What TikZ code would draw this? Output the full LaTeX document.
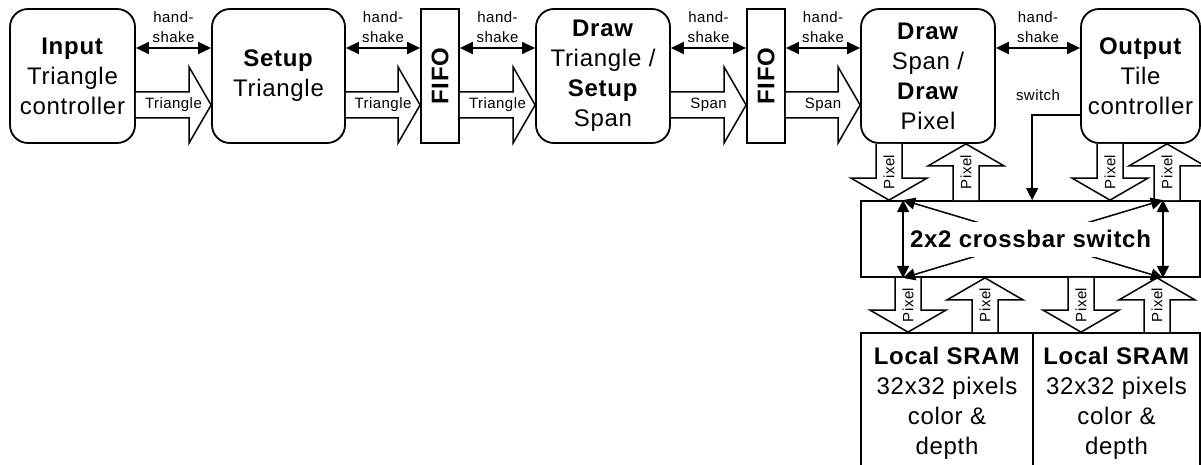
\documentclass[tikz,border=0pt]{standalone}
\usepackage{fontspec}
\setmainfont{Liberation Sans}[LetterSpace=3]
\usetikzlibrary{arrows.meta,calc}
\newcommand\bigf{\fontsize{24}{30}\selectfont}
\newcommand\smf{\fontsize{15}{20}\selectfont}
\tikzset{
  lw/.style={line width=1.8pt},
  rbox/.style={draw, lw, rounded corners=18pt, fill=white, align=center, inner sep=0pt, font=\bigf},
  sbox/.style={draw, lw, fill=white, align=center, inner sep=0pt, font=\bigf},
  hs/.style={line width=1.6pt, {Triangle[length=13pt,width=12pt]}-{Triangle[length=13pt,width=12pt]}},
  xa/.style={line width=1.5pt, {Triangle[length=12pt,width=12pt]}-{Triangle[length=12pt,width=12pt]}},
  sw/.style={line width=1.5pt, -{Triangle[length=12pt,width=12pt]}},
  hl/.style={align=center, inner sep=0pt, font=\smf},
  fatarrow/.style={draw, line width=1.5pt, fill=white, line join=miter},
  fatlbl/.style={inner sep=0pt, font=\smf},
}
% #1 start, #2 tip, #3 label, #4 label rotation
\newcommand\blockarrow[4]{%
  \path #1 coordinate (fA) #2 coordinate (fB);
  \coordinate (fH) at ($(fB)!22pt!(fA)$);
  \draw[fatarrow] ($(fA)!13pt!90:(fB)$) -- ($(fH)!13pt!90:(fB)$) -- ($(fH)!38pt!90:(fB)$)
    -- (fB) -- ($(fH)!38pt!-90:(fB)$) -- ($(fH)!13pt!-90:(fB)$) -- ($(fA)!13pt!-90:(fB)$);
  \node[fatlbl, rotate=#4] at ($(fA)!0.5!(fB)$) {#3};
}
\begin{document}
\begin{tikzpicture}[x=1pt,y=-1pt]
\useasboundingbox (0,0) rectangle (1201,465);
\clip (0,0) rectangle (1201,465);

% pipeline boxes
\node[rbox, minimum width=125pt, minimum height=134pt] (inp) at (72.5,76) {\textbf{Input}\\Triangle\\controller};
\node[rbox, minimum width=133pt, minimum height=134pt] (set) at (278.5,76) {\textbf{Setup}\\Triangle};
\node[sbox, minimum width=38pt, minimum height=134pt] (f1) at (440,76) {\rotatebox{90}{\bfseries FIFO}};
\node[rbox, minimum width=134pt, minimum height=134pt] (dt) at (603,76) {\textbf{Draw}\\Triangle /\\\textbf{Setup}\\Span};
\node[sbox, minimum width=38pt, minimum height=134pt] (f2) at (766,76) {\rotatebox{90}{\bfseries FIFO}};
\node[rbox, minimum width=134pt, minimum height=134pt] (ds) at (928,76) {\textbf{Draw}\\Span /\\\textbf{Draw}\\Pixel};
\node[rbox, minimum width=119pt, minimum height=134pt] (out) at (1140.5,76) {\textbf{Output}\\Tile\\controller};

% crossbar and memories
\node[sbox, minimum width=339pt, minimum height=76pt] (xbar) at (1030.5,239) {};
\node[sbox, minimum width=172pt, minimum height=140pt] (s1) at (947,403) {\textbf{Local SRAM}\\32x32 pixels\\color \&\\depth};
\node[sbox, minimum width=167pt, minimum height=140pt] (s2) at (1116.5,403) {\textbf{Local SRAM}\\32x32 pixels\\color \&\\depth};

% handshakes
\draw[hs] ($(inp.east)+(0,-28)$) -- ($(set.west)+(0,-28)$);
\draw[hs] ($(set.east)+(0,-28)$) -- ($(f1.west)+(0,-28)$);
\draw[hs] ($(f1.east)+(0,-28)$) -- ($(dt.west)+(0,-28)$);
\draw[hs] ($(dt.east)+(0,-28)$) -- ($(f2.west)+(0,-28)$);
\draw[hs] ($(f2.east)+(0,-28)$) -- ($(ds.west)+(0,-28)$);
\draw[hs] ($(ds.east)+(0,-28)$) -- ($(out.west)+(0,-28)$);
\node[hl] (h1) at ($(inp.east)!0.5!(set.west)+(0,-48.5)$) {hand-\\shake};
\node[hl] (h2) at ($(set.east)!0.5!(f1.west)+(0,-48.5)$) {hand-\\shake};
\node[hl] (h3) at ($(f1.east)!0.5!(dt.west)+(0,-48.5)$) {hand-\\shake};
\node[hl] (h4) at ($(dt.east)!0.5!(f2.west)+(0,-48.5)$) {hand-\\shake};
\node[hl] (h5) at ($(f2.east)!0.5!(ds.west)+(0,-48.5)$) {hand-\\shake};
\node[hl] (h6) at ($(ds.east)!0.5!(out.west)+(0,-48.5)$) {hand-\\shake};

% data flow arrows
\blockarrow{($(inp.east)+(0,29)$)}{($(set.west)+(0,29)$)}{Triangle}{0}
\blockarrow{($(set.east)+(0,29)$)}{($(f1.west)+(0,29)$)}{Triangle}{0}
\blockarrow{($(f1.east)+(0,29)$)}{($(dt.west)+(0,29)$)}{Triangle}{0}
\blockarrow{($(dt.east)+(0,29)$)}{($(f2.west)+(0,29)$)}{Span}{0}
\blockarrow{($(f2.east)+(0,29)$)}{($(ds.west)+(0,29)$)}{Span}{0}

% pixel arrows
\blockarrow{($(ds.south)+(-39,0)$)}{($(xbar.north)+(-141.5,0)$)}{Pixel}{90}
\blockarrow{($(xbar.north)+(-64.5,0)$)}{($(ds.south)+(38,0)$)}{Pixel}{90}
\blockarrow{($(out.south)+(-30.5,0)$)}{($(xbar.north)+(79.5,0)$)}{Pixel}{90}
\blockarrow{($(xbar.north)+(136.5,0)$)}{($(out.south)+(26.5,0)$)}{Pixel}{90}
\blockarrow{($(xbar.south)+(-122.5,0)$)}{($(s1.north)+(-39,0)$)}{Pixel}{90}
\blockarrow{($(s1.north)+(38,0)$)}{($(xbar.south)+(-45.5,0)$)}{Pixel}{90}
\blockarrow{($(xbar.south)+(50.5,0)$)}{($(s2.north)+(-35.5,0)$)}{Pixel}{90}
\blockarrow{($(s2.north)+(40.5,0)$)}{($(xbar.south)+(126.5,0)$)}{Pixel}{90}

% switch control
\draw[sw] ($(out.west)+(0,39)$) -| (xbar.north -| s2.west);
\node[hl] (swl) at ($(ds.east)!0.5!(out.west)+(0,19)$) {switch};

% crossbar internals
\coordinate (xtl) at ($(xbar.north west)+(43,0)$);
\coordinate (xtr) at ($(xbar.north east)+(-38,0)$);
\coordinate (xbl) at ($(xbar.south west)+(43,0)$);
\coordinate (xbr) at ($(xbar.south east)+(-38,0)$);
\draw[xa] (xtl) -- (xbr);
\draw[xa] (xtr) -- (xbl);
\node[fill=white, inner xsep=2pt, inner ysep=0pt, text height=26pt, text depth=9pt, font=\bigf\bfseries] (xt) at (xbar.center) {2x2 crossbar switch};
\draw[xa] (xtl) -- (xbl);
\draw[xa] (xtr) -- (xbr);
\end{tikzpicture}
\end{document}
